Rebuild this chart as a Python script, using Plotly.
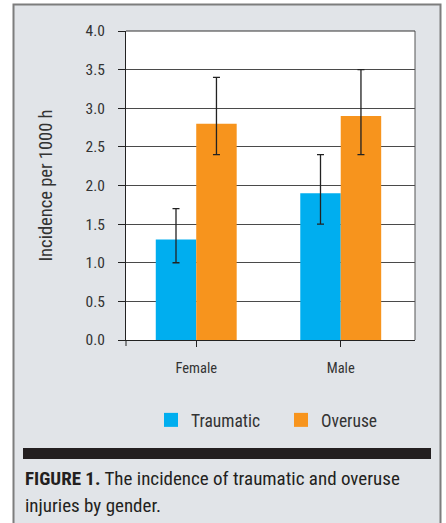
import plotly.graph_objects as go

categories = ["Female", "Male"]
traumatic = [1.3, 1.9]
traumatic_hi = [1.7, 2.4]
traumatic_lo = [1.0, 1.5]
overuse = [2.8, 2.9]
overuse_hi = [3.4, 3.5]
overuse_lo = [2.4, 2.4]
y_ticks = [0, 0.5, 1.0, 1.5, 2.0, 2.5, 3.0, 3.5, 4.0]

BLUE = "#00aeef"
ORANGE = "#f7941d"
FONT = "Liberation Sans Narrow, Roboto Condensed, Liberation Sans, sans-serif"

W, H = 446, 523
L, R, T, B = 126, 415, 31, 340


def px(x):
    return (x - L) / (R - L)


def py(y):
    return (B - y) / (B - T)


def err(vals, hi, lo):
    return dict(type="data", symmetric=False,
                array=[h - v for h, v in zip(hi, vals)],
                arrayminus=[v - l for v, l in zip(vals, lo)],
                color="#222222", thickness=1.3, width=3.5)


fig = go.Figure()
fig.add_trace(go.Bar(x=categories, y=traumatic, marker_color=BLUE, marker_line_width=0,
                     error_y=err(traumatic, traumatic_hi, traumatic_lo), showlegend=False))
fig.add_trace(go.Bar(x=categories, y=overuse, marker_color=ORANGE, marker_line_width=0,
                     error_y=err(overuse, overuse_hi, overuse_lo), showlegend=False))
fig.add_trace(go.Scatter(x=[None], y=[None], mode="markers", name="Traumatic",
                         marker=dict(symbol="square", size=14, color=BLUE)))
fig.add_trace(go.Scatter(x=[None], y=[None], mode="markers", name="Overuse",
                         marker=dict(symbol="square", size=14, color=ORANGE)))

shapes = [
    dict(type="rect", xref="paper", yref="paper", x0=px(13.5), x1=px(440.5), y0=py(535), y1=py(4.5),
         fillcolor="#e1e4e8", line=dict(color="#7d7d7d", width=2), layer="below"),
    dict(type="rect", xref="paper", yref="paper", x0=0, x1=1, y0=0, y1=1,
         fillcolor="white", line=dict(width=0), layer="below"),
    dict(type="rect", xref="paper", yref="paper", x0=px(23), x1=px(431), y0=py(459), y1=py(448),
         fillcolor="#231f20", line=dict(width=0)),
    dict(type="line", xref="paper", yref="paper", x0=0, x1=0, y0=0, y1=py(346),
         line=dict(color="#222222", width=1)),
]

annotations = [
    dict(text="Incidence per 1000 h", xref="paper", yref="paper", x=px(45), y=0.5,
         textangle=-90, showarrow=False, font=dict(family=FONT, size=18.5, color="#333333"),
         xanchor="center", yanchor="middle"),
    dict(text="<b>FIGURE 1.</b> The incidence of traumatic and overuse", xref="paper", yref="paper",
         x=px(23), y=py(478), xanchor="left", yanchor="middle", showarrow=False,
         font=dict(family=FONT, size=19, color="#231f20")),
    dict(text="injuries by gender.", xref="paper", yref="paper",
         x=px(23), y=py(505), xanchor="left", yanchor="middle", showarrow=False,
         font=dict(family=FONT, size=19, color="#231f20")),
]

fig.update_layout(
    width=W, height=H,
    margin=dict(l=L, r=W - R, t=T, b=H - B, pad=0),
    paper_bgcolor="white", plot_bgcolor="rgba(0,0,0,0)",
    barmode="group", bargap=0.44, bargroupgap=0,
    font=dict(family=FONT, color="#333333"),
    shapes=shapes, annotations=annotations,
    legend=dict(orientation="h", x=px(151), y=py(420), xanchor="left", yanchor="middle",
                bgcolor="rgba(0,0,0,0)", font=dict(family=FONT, size=17.5, color="#333333"),
                entrywidth=85, entrywidthmode="pixels", itemclick=False),
    xaxis=dict(range=[-0.486, 1.514],
               showline=True, linecolor="#222222", linewidth=1, mirror=False,
               ticks="outside", ticklen=6, tickcolor="#222222",
               tickfont=dict(family=FONT, size=14.5, color="#333333"),
               ticklabelstandoff=9, showgrid=False, fixedrange=True),
    yaxis=dict(range=[0, 4], tickvals=y_ticks, tickformat=".1f",
               showline=True, linecolor="#222222", linewidth=1, mirror=False,
               ticks="outside", ticklen=7, tickcolor="#222222",
               tickfont=dict(family=FONT, size=15.5, color="#333333"),
               ticklabelstandoff=10,
               showgrid=True, gridcolor="#4a4a4a", gridwidth=1, zeroline=False,
               fixedrange=True),
)
fig.add_shape(type="line", xref="paper", yref="paper", x0=1, x1=1, y0=0, y1=1,
              line=dict(color="#555555", width=1))
fig.add_shape(type="line", xref="paper", yref="paper", x0=0, x1=1, y0=1, y1=1,
              line=dict(color="#333333", width=1))

fig.write_html("out.html", config={"displayModeBar": False},
               post_script="document.body.style.margin='0';")
